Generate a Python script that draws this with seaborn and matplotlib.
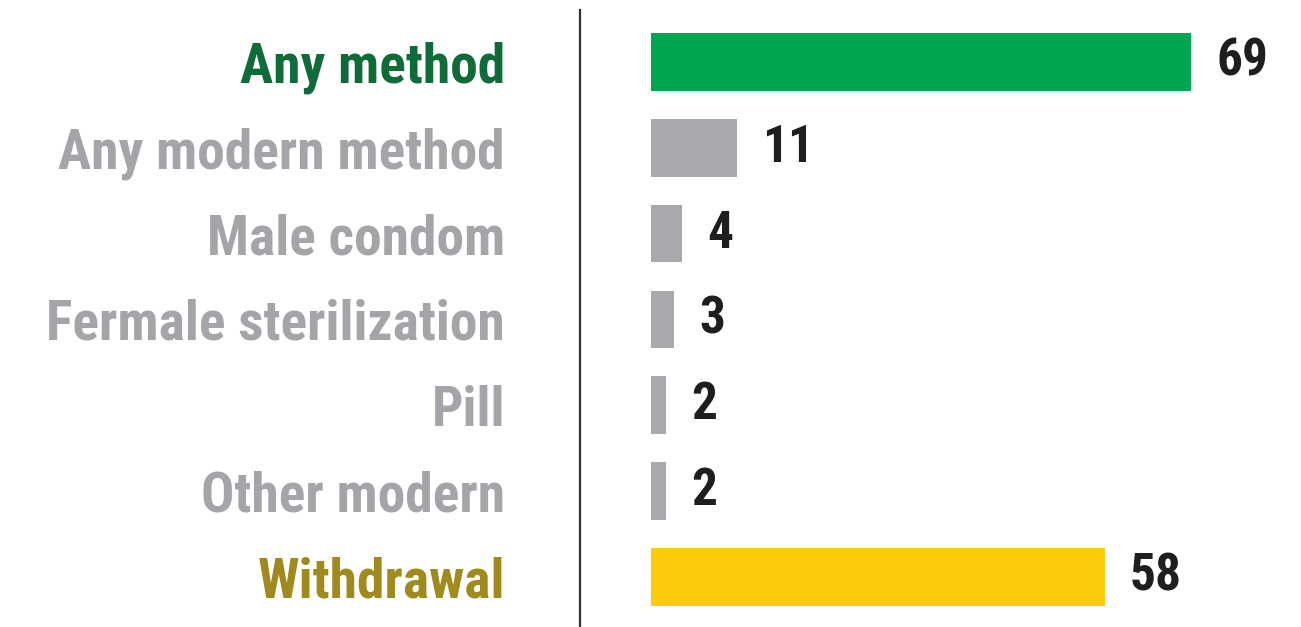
import matplotlib
matplotlib.use("Agg")
import matplotlib.pyplot as plt
import seaborn as sns

# ==================== data ====================
methods = ["Any method", "Any modern method", "Male condom",
           "Fermale sterilization", "Pill", "Other modern", "Withdrawal"]
percent = [69, 11, 4, 3, 2, 2, 58]

bar_colors = ["#00A651", "#A7A9AC", "#A7A9AC", "#A7A9AC",
              "#A7A9AC", "#A7A9AC", "#FCCB0A"]
label_colors = ["#0F6B37", "#A3A5A8", "#A3A5A8", "#A3A5A8",
                "#A3A5A8", "#A3A5A8", "#A08A1E"]

sns.set_style("white")
plt.rcParams["font.family"] = ["Roboto Condensed", "DejaVu Sans"]

W, H = 1301, 627
fig = plt.figure(figsize=(W / 100, H / 100), dpi=100)
# axes spans from the divider line to the right edge
ax = fig.add_axes([580 / W, 0, 1 - 580 / W, (H - 10) / H])

sns.barplot(x=percent, y=methods, hue=methods, palette=bar_colors,
            legend=False, width=0.67, orient="h", saturation=1,
            linewidth=0, ax=ax)

ax.set_xlim(-9.0, 83.0)
ax.set_ylim(6.585, -0.606)
ax.set_xlabel("")
ax.set_ylabel("")
ax.set_xticks([])

sns.despine(ax=ax, top=True, right=True, bottom=True, left=False)
ax.spines["left"].set_color("#333333")
ax.spines["left"].set_linewidth(1.6)

ax.tick_params(axis="y", length=0, pad=54)
for lab, c in zip(ax.get_yticklabels(), label_colors):
    lab.set_color(c)
    lab.set_fontsize(40)
    lab.set_fontweight("bold")

# value labels
for i, v in enumerate(percent):
    ax.annotate(str(v), xy=(v, i), xytext=(18, 0), textcoords="offset points",
                ha="left", va="center", fontsize=37, fontweight="bold",
                color="#1E1E1E")

fig.savefig("out.png", dpi=100)
